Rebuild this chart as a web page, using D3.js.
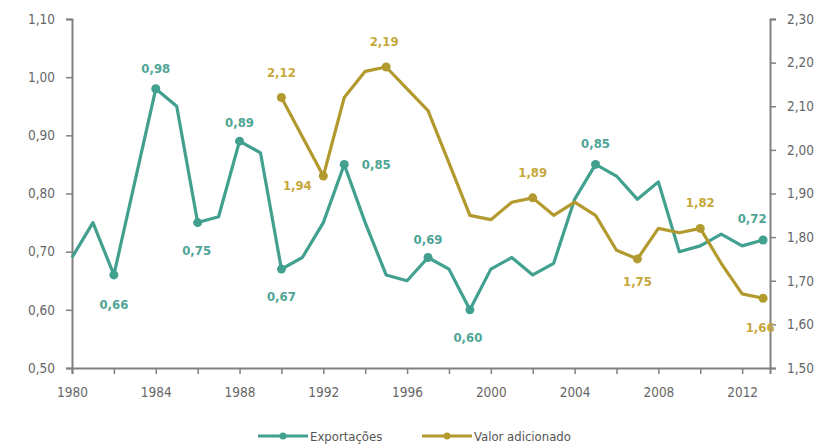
<!DOCTYPE html>
<html>
<head>
<meta charset="utf-8">
<script src="https://cdn.jsdelivr.net/npm/d3@7/dist/d3.min.js"></script>
<style>
  html, body { margin: 0; padding: 0; background: #fff; }
  svg { display: block; }
  text { font-family: "DejaVu Sans Condensed", "Liberation Sans Narrow", sans-serif; }
</style>
</head>
<body>
<svg id="chart" width="834" height="447"></svg>
<script>
// Years shown on the horizontal axis
const years = d3.range(1980, 2014);
const yearsValueAdded = d3.range(1990, 2014);

// Exportações (left axis), 1980–2013
const exportacoes = [0.69, 0.75, 0.66, 0.82, 0.98, 0.95, 0.75, 0.76, 0.89, 0.87,
                     0.67, 0.69, 0.75, 0.85, 0.75, 0.66, 0.65, 0.69, 0.67, 0.60,
                     0.67, 0.69, 0.66, 0.68, 0.79, 0.85, 0.83, 0.79, 0.82, 0.70,
                     0.71, 0.73, 0.71, 0.72];

// Valor adicionado (right axis), 1990–2013
const valorAdicionado = [2.12, 2.03, 1.94, 2.12, 2.18, 2.19, 2.14, 2.09, 1.97, 1.85,
                         1.84, 1.88, 1.89, 1.85, 1.88, 1.85, 1.77, 1.75, 1.82, 1.81,
                         1.82, 1.74, 1.67, 1.66];

// Years that carry a marker and a value label
const labeledExport = [1982, 1984, 1986, 1988, 1990, 1993, 1997, 1999, 2005, 2013];
const labeledValue = [1990, 1992, 1995, 2002, 2007, 2010, 2013];

// Axis tick values
const leftTicks = [0.5, 0.6, 0.7, 0.8, 0.9, 1.0, 1.1];
const rightTicks = [1.5, 1.6, 1.7, 1.8, 1.9, 2.0, 2.1, 2.2, 2.3];
const xTickYears = d3.range(1980, 2014, 2);
const xLabelYears = d3.range(1980, 2014, 4);

const seriesNames = ["Exportações", "Valor adicionado"];

const tealLine = "#42a08f", tealText = "#4fa595";
const goldLine = "#b39a2e", goldText = "#c6a73a";
const axisColor = "#808080", tickText = "#666";

const svg = d3.select("#chart");
const fmt = d3.format(".2f");
const comma = v => fmt(v).replace(".", ",");

const x = d3.scaleLinear().domain([1980, 2013.33]).range([72, 770]);
const yL = d3.scaleLinear().domain([0.5, 1.1]).range([368, 19]);
const yR = d3.scaleLinear().domain([1.5, 2.3]).range([368, 19]);

// Axes
const axisStyle = g => {
  g.selectAll(".domain").attr("stroke", axisColor).attr("stroke-width", 2);
  g.selectAll(".tick line").attr("stroke", axisColor).attr("stroke-width", 1.5);
  g.selectAll(".tick text").attr("fill", tickText).attr("font-size", 13.5);
};

svg.append("g").attr("transform", "translate(72,0)")
  .call(d3.axisLeft(yL).tickValues(leftTicks).tickSize(6).tickPadding(11).tickFormat(comma))
  .call(axisStyle);

svg.append("g").attr("transform", "translate(770,0)")
  .call(d3.axisRight(yR).tickValues(rightTicks).tickSize(6).tickPadding(11).tickFormat(comma))
  .call(axisStyle);

svg.append("g").attr("transform", "translate(0,368)")
  .call(d3.axisBottom(x).tickValues(xTickYears).tickSize(6).tickPadding(13)
    .tickFormat(d => xLabelYears.includes(d) ? String(d) : ""))
  .call(axisStyle);

// Lines
const exportData = years.map((yr, i) => ({ year: yr, v: exportacoes[i] }));
const valueData = yearsValueAdded.map((yr, i) => ({ year: yr, v: valorAdicionado[i] }));

svg.append("path").datum(exportData)
  .attr("fill", "none").attr("stroke", tealLine).attr("stroke-width", 3.2)
  .attr("stroke-linejoin", "round")
  .attr("d", d3.line().x(d => x(d.year)).y(d => yL(d.v)));

svg.append("path").datum(valueData)
  .attr("fill", "none").attr("stroke", goldLine).attr("stroke-width", 3.2)
  .attr("stroke-linejoin", "round")
  .attr("d", d3.line().x(d => x(d.year)).y(d => yR(d.v)));

// Label placement relative to each marker
const exportOffsets = {
  1982: [0, 30], 1984: [0, -20], 1986: [-1, 28], 1988: [0, -19], 1990: [0, 27],
  1993: [32, 0], 1997: [0, -18], 1999: [-2, 28], 2005: [0, -21], 2013: [-11, -22]
};
const valueOffsets = {
  1990: [0, -25], 1992: [-26, 9], 1995: [-2, -25], 2002: [0, -25],
  2007: [0, 23], 2010: [0, -26], 2013: [-3, 29]
};

function markers(data, labeled, yScale, color, textColor, offsets) {
  const pts = data.filter(d => labeled.includes(d.year));
  svg.append("g").selectAll("circle").data(pts).join("circle")
    .attr("cx", d => x(d.year)).attr("cy", d => yScale(d.v))
    .attr("r", 4.5).attr("fill", color);
  svg.append("g").selectAll("text").data(pts).join("text")
    .attr("x", d => x(d.year) + offsets[d.year][0])
    .attr("y", d => yScale(d.v) + offsets[d.year][1])
    .attr("text-anchor", "middle").attr("dominant-baseline", "central")
    .attr("font-size", 13).attr("font-weight", "bold").attr("fill", textColor)
    .text(d => comma(d.v));
}

markers(exportData, labeledExport, yL, tealLine, tealText, exportOffsets);
markers(valueData, labeledValue, yR, goldLine, goldText, valueOffsets);

// Legend
const legend = svg.append("g").attr("transform", "translate(0,436)");
const legendItems = [
  { name: seriesNames[0], color: tealLine, x0: 258 },
  { name: seriesNames[1], color: goldLine, x0: 422 }
];
legendItems.forEach(it => {
  legend.append("line").attr("x1", it.x0).attr("x2", it.x0 + 50)
    .attr("y1", 0).attr("y2", 0).attr("stroke", it.color).attr("stroke-width", 3);
  legend.append("circle").attr("cx", it.x0 + 25).attr("cy", 0).attr("r", 3.5).attr("fill", it.color);
  legend.append("text").attr("x", it.x0 + 52).attr("y", 0)
    .attr("dominant-baseline", "central").attr("font-size", 13).attr("fill", "#555")
    .text(it.name);
});
</script>
</body>
</html>
